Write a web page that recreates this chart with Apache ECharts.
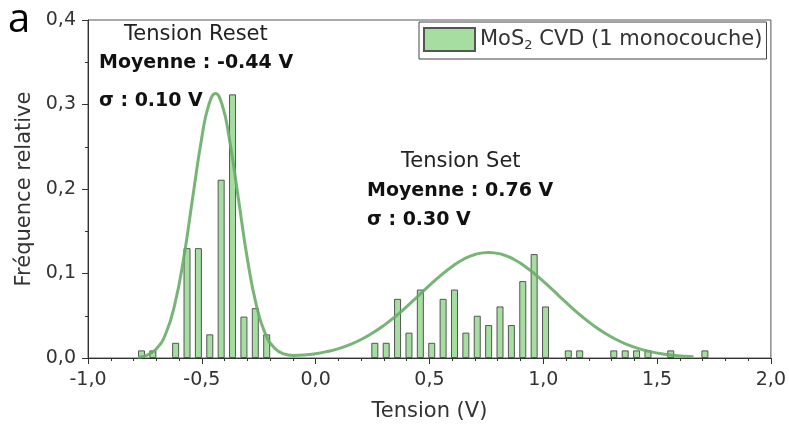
<!DOCTYPE html>
<html>
<head>
<meta charset="utf-8">
<script src="https://cdn.jsdelivr.net/npm/echarts@6/dist/echarts.min.js"></script>
<style>html,body{margin:0;padding:0;background:#fff}#c{width:789px;height:435px}</style>
</head>
<body>
<div id="c"></div>
<script>
// Histogram: Tension Reset
var resetX    = [-0.765, -0.715, -0.615, -0.565, -0.515, -0.465, -0.415, -0.365, -0.315, -0.265, -0.215];
var resetFreq = [0.009, 0.009, 0.018, 0.130, 0.130, 0.028, 0.211, 0.312, 0.049, 0.059, 0.028];
// Histogram: Tension Set
var setX    = [0.26, 0.31, 0.36, 0.41, 0.46, 0.51, 0.56, 0.61, 0.66, 0.71, 0.76, 0.81, 0.86, 0.91, 0.96, 1.01,
               1.11, 1.16, 1.31, 1.36, 1.41, 1.46, 1.56, 1.71];
var setFreq = [0.018, 0.018, 0.070, 0.030, 0.081, 0.018, 0.070, 0.081, 0.030, 0.050, 0.039, 0.061, 0.039, 0.091, 0.123, 0.061,
               0.009, 0.009, 0.009, 0.009, 0.009, 0.009, 0.009, 0.009];
// Fitted curve
var fitX = [-0.78, -0.74, -0.70, -0.66, -0.62, -0.58, -0.54, -0.50, -0.47, -0.44, -0.41, -0.38, -0.34, -0.30, -0.26, -0.22,
            -0.18, -0.14, -0.10, -0.05, 0.00, 0.05, 0.10, 0.15, 0.20, 0.25, 0.30, 0.35, 0.40, 0.45, 0.50, 0.55, 0.60, 0.65,
            0.70, 0.76, 0.82, 0.87, 0.92, 0.97, 1.02, 1.07, 1.12, 1.17, 1.22, 1.27, 1.32, 1.37, 1.42, 1.47, 1.52, 1.57, 1.62, 1.66];
var fitY = [0.001, 0.0035, 0.0107, 0.0278, 0.062, 0.1175, 0.190, 0.261, 0.299, 0.313, 0.299, 0.261, 0.190, 0.1175, 0.062, 0.028,
            0.0116, 0.0049, 0.0031, 0.0035, 0.0050, 0.0076, 0.0111, 0.0158, 0.0219, 0.0295, 0.0386, 0.0491, 0.0608, 0.0733, 0.0859, 0.0978, 0.1084, 0.1169,
            0.1225, 0.125, 0.1225, 0.1169, 0.1084, 0.0978, 0.0859, 0.0733, 0.0608, 0.0491, 0.0386, 0.0295, 0.0219, 0.0158, 0.0111, 0.0076, 0.0050, 0.0033, 0.0021, 0.0014];
// Axis ticks
var xTicks = {min: -1, max: 2, interval: 0.5};
var yTicks = {min: 0, max: 0.4, interval: 0.1};
var seriesName = 'MoS2 CVD (1 monocouche)';

var barData = [];
resetX.forEach(function (x, i) { barData.push([x, resetFreq[i]]); });
setX.forEach(function (x, i) { barData.push([x, setFreq[i]]); });
var fitData = fitX.map(function (x, i) { return [x, fitY[i]]; });

var FONT = 'DejaVu Sans';
function fmt(v) { return v.toFixed(1).replace('.', ','); }

var chart = echarts.init(document.getElementById('c'), null, {renderer: 'canvas'});
chart.setOption({
  animation: false,
  backgroundColor: '#fff',
  grid: {left: 88, right: 15, top: 20, bottom: 77, show: true, borderColor: '#555', borderWidth: 1},
  xAxis: {
    type: 'value', min: xTicks.min, max: xTicks.max, interval: xTicks.interval,
    name: 'Tension (V)', nameLocation: 'middle', nameGap: 43,
    nameTextStyle: {fontFamily: FONT, fontSize: 21, color: '#333'},
    axisLine: {show: true, onZero: false, lineStyle: {color: '#333', width: 1}},
    axisTick: {show: true, inside: false, length: 6, lineStyle: {color: '#333'}},
    minorTick: {show: true, splitNumber: 5, length: 3, lineStyle: {color: '#333'}},
    splitLine: {show: false},
    axisLabel: {fontFamily: FONT, fontSize: 19, color: '#333', margin: 13, formatter: fmt}
  },
  yAxis: {
    type: 'value', min: yTicks.min, max: yTicks.max, interval: yTicks.interval,
    name: 'Fréquence relative', nameLocation: 'middle', nameGap: 45,
    nameTextStyle: {fontFamily: FONT, fontSize: 21, color: '#333'},
    axisLine: {show: true, onZero: false, lineStyle: {color: '#333', width: 1}},
    axisTick: {show: true, inside: false, length: 6, lineStyle: {color: '#333'}},
    minorTick: {show: true, splitNumber: 2, length: 3, lineStyle: {color: '#333'}},
    splitLine: {show: false},
    axisLabel: {fontFamily: FONT, fontSize: 19, color: '#333', margin: 12, formatter: fmt}
  },
  legend: {
    data: [seriesName], left: 419, top: 22, orient: 'vertical',
    padding: [5, 4, 7, 4], itemWidth: 51, itemHeight: 23, itemGap: 0,
    borderColor: '#444', borderWidth: 1, icon: 'rect',
    formatter: function () { return 'MoS{sub|2} CVD (1 monocouche)'; },
    textStyle: {fontFamily: FONT, fontSize: 21, color: '#333',
      rich: {sub: {fontFamily: FONT, fontSize: 13, color: '#333', padding: [12, 0, 0, 0]}}}
  },
  series: [
    {
      name: seriesName, type: 'bar', data: barData, barWidth: 7,
      itemStyle: {color: '#a5dea0', borderColor: '#555', borderWidth: 1},
      z: 2
    },
    {
      name: 'fit', type: 'line', data: fitData, smooth: true, showSymbol: false,
      lineStyle: {color: '#68ad68', width: 3, opacity: 0.9},
      z: 3
    }
  ],
  graphic: [
    {type: 'text', left: 8, top: 1, style: {text: 'a', font: '40px "Open Sans"', fill: '#000'}},
    {type: 'text', x: 124, y: 35, style: {text: 'Tension Reset', font: '21px "DejaVu Sans"', fill: '#222', verticalAlign: 'middle'}},
    {type: 'text', x: 99, y: 63, style: {text: 'Moyenne : -0.44 V', font: 'bold 19px "DejaVu Sans"', fill: '#111', verticalAlign: 'middle'}},
    {type: 'text', x: 99, y: 101, style: {text: 'σ : 0.10 V', font: 'bold 19px "DejaVu Sans"', fill: '#111', verticalAlign: 'middle'}},
    {type: 'text', x: 401, y: 162, style: {text: 'Tension Set', font: '21px "DejaVu Sans"', fill: '#222', verticalAlign: 'middle'}},
    {type: 'text', x: 367, y: 191, style: {text: 'Moyenne : 0.76 V', font: 'bold 19px "DejaVu Sans"', fill: '#111', verticalAlign: 'middle'}},
    {type: 'text', x: 367, y: 220, style: {text: 'σ : 0.30 V', font: 'bold 19px "DejaVu Sans"', fill: '#111', verticalAlign: 'middle'}}
  ]
});
</script>
</body>
</html>
